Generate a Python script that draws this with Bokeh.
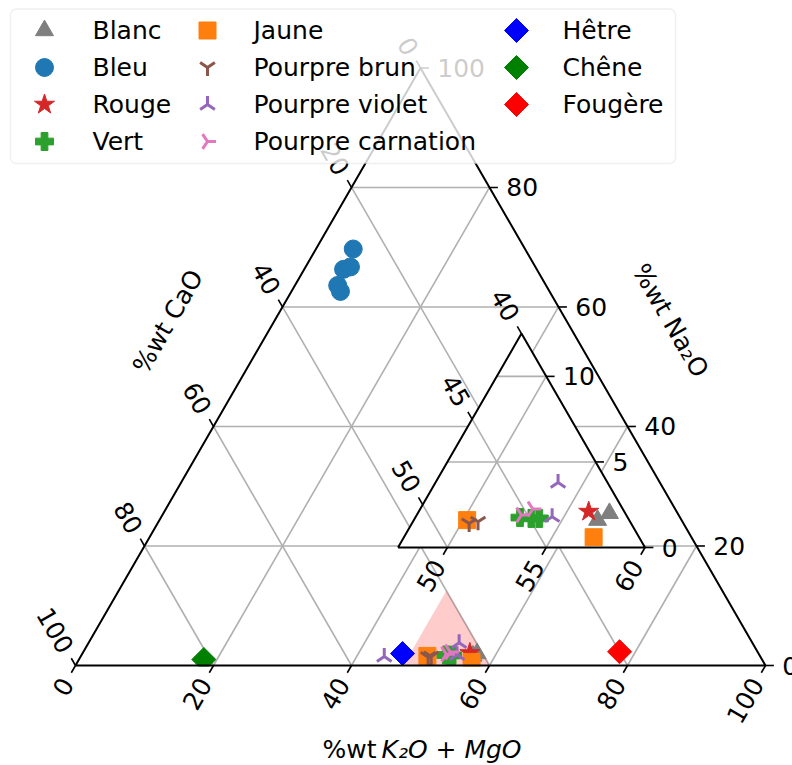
import numpy as np
from bokeh.plotting import figure
from bokeh.models import Range1d, BoxAnnotation
from bokeh.core.properties import value
from bokeh.embed import file_html
from bokeh.resources import INLINE

# ---------------- data: %wt K2O+MgO and %wt Na2O (CaO = remainder) ----------------
blanc_k = [56.8, 57.2]
blanc_na = [1.6, 2.0]
bleu_k = [5.4, 5.7, 6.5, 6.2, 7.1]
bleu_na = [69.7, 66.3, 66.7, 63.6, 62.6]
rouge_k = [56.1]
rouge_na = [2.1]
vert_k = [52.8, 53.4, 53.8]
vert_na = [1.75, 1.7, 1.7]
jaune_k = [50.2, 57.1]
jaune_na = [1.6, 0.6]
brun_k = [50.4, 50.8]
brun_na = [1.4, 1.5]
violet_k = [44.0, 53.7, 54.4]
violet_na = [1.5, 3.8, 1.8]
carnation_k = [52.8, 53.2]
carnation_na = [1.9, 2.25]
hetre_k = [46.4]
hetre_na = [2.0]
chene_k = [18.1]
chene_na = [1.0]
fougere_k = [77.7]
fougere_na = [2.3]

main_ticks = [0, 20, 40, 60, 80, 100]
main_grid = [20, 40, 60, 80]
zoom_k_lim = [47.5, 60.0]
zoom_na_lim = [0.0, 12.5]
zoom_k_ticks = [50, 55, 60]
zoom_cao_ticks = [40, 45, 50]
zoom_na_ticks = [0, 5, 10]

# ---------------- layout helpers ----------------
PX = 6.9
SQ = np.sqrt(3) / 2
W, H = 792, 765
def ux(X): return (X - 75.0) / PX
def vy(Y): return (665.0 - Y) / PX
TL = 8.4 / PX
PAD = 8.4 / PX
FONT = value("DejaVu Sans")
FS = value("25px")
GRID = "#b0b0b0"

def mxy(k, n):
    k = np.asarray(k, float); n = np.asarray(n, float)
    return k + n / 2, n * SQ

KMIN, KMAX = zoom_k_lim
NMAX = zoom_na_lim[1]
Z_U0, Z_V0, Z_S = ux(397.5), vy(547.0), 19.76 / PX
def zxy(k, n):
    k = np.asarray(k, float); n = np.asarray(n, float)
    return Z_U0 + Z_S * ((k - KMIN) + n / 2), Z_V0 + Z_S * (n * SQ)

p = figure(width=W, height=H, x_range=Range1d(ux(0), ux(W)),
           y_range=Range1d(vy(H), vy(0)), output_backend="svg",
           toolbar_location=None, min_border=0,
           x_axis_location=None, y_axis_location=None)
p.grid.visible = False
p.outline_line_color = None
p.background_fill_color = "white"

series = [
    ("Blanc", blanc_k, blanc_na, "triangle", "#7f7f7f", 18, 0.0),
    ("Bleu", bleu_k, bleu_na, "circle", "#1f77b4", 18, 0.0),
    ("Rouge", rouge_k, rouge_na, "star", "#d62728", 21, 0.0),
    ("Vert", vert_k, vert_na, "plus", "#2ca02c", 18, 0.0),
    ("Jaune", jaune_k, jaune_na, "square", "#ff7f0e", 17, 0.0),
    ("Pourpre brun", brun_k, brun_na, "y", "#8c564b", 17, 0.0),
    ("Pourpre violet", violet_k, violet_na, "y", "#9467bd", 17, np.pi),
    ("Pourpre carnation", carnation_k, carnation_na, "y", "#e377c2", 17, np.pi / 2),
    ("Hêtre", hetre_k, hetre_na, "square", "#0000ff", 17, np.pi / 4),
    ("Chêne", chene_k, chene_na, "square", "#008000", 17, np.pi / 4),
    ("Fougère", fougere_k, fougere_na, "square", "#ff0000", 17, np.pi / 4),
]

def draw_markers(xs, ys, marker, color, size, angle, level="glyph"):
    if len(xs) == 0:
        return
    if marker == "y":
        p.scatter(xs, ys, marker="y", size=size, angle=angle, line_color=color,
                  line_width=3, fill_color=None, level=level)
    else:
        p.scatter(xs, ys, marker=marker, size=size, angle=angle, fill_color=color,
                  line_color=color, line_width=1, level=level)

def ticks(us, vs, d, labels, angle, align, color="black"):
    dx, dy = d
    p.multi_line([[u, u + TL * dx] for u in us], [[v, v + TL * dy] for v in vs],
                 line_color=color, line_width=1.6)
    p.text(x=[u + (TL + PAD) * dx for u in us], y=[v + (TL + PAD) * dy for v in vs],
           text=labels, angle=angle, text_align=align, text_baseline="middle",
           text_font=FONT, text_font_size=FS, text_color=color)

# ---------------- main ternary ----------------
gx, gy = [], []
for g in main_grid:
    for (k0, n0, k1, n1) in [(g, 0, g, 100 - g), (0, g, 100 - g, g), (0, 100 - g, 100 - g, 0)]:
        x, y = mxy([k0, k1], [n0, n1])
        gx.append(list(x)); gy.append(list(y))
p.multi_line(gx, gy, line_color=GRID, line_width=1.6)

# zoom region highlighted on the main triangle
rx, ry = mxy([KMIN, KMAX, KMIN], [0, 0, NMAX])
p.patch(list(rx), list(ry), fill_color="red", fill_alpha=0.2, line_color=None)

for name, k, na, mk, col, sz, ang in series:
    x, y = mxy(k, na)
    draw_markers(list(x), list(y), mk, col, sz, ang)

# clip markers below the bottom edge
p.quad(left=[ux(40)], right=[ux(790)], top=[vy(666)], bottom=[vy(690)],
       fill_color="white", line_color=None)

ex, ey = mxy([0, 100, 0, 0], [0, 0, 100, 0])
p.line(list(ex), list(ey), line_color="black", line_width=2)

lab = [str(t) for t in main_ticks]
bx, by = mxy(main_ticks, [0] * 6)
ticks(list(bx), list(by), (-0.5, -SQ), lab, np.pi / 3, "right")
rxx, ryy = mxy([100 - t for t in main_ticks], main_ticks)
ticks(list(rxx), list(ryy), (1, 0), lab, 0.0, "left")
lx, ly = mxy([0] * 6, [100 - t for t in main_ticks])
ticks(list(lx), list(ly), (-0.5, SQ), lab, -np.pi / 3, "right")

# ---------------- zoomed inset ternary ----------------
wx, wy = zxy([KMIN, KMAX, KMIN], [0, 0, NMAX])
p.patch(list(wx), list(wy), fill_color="white", line_color=None)

CMIN = 100 - KMAX
zx, zy = [], []
for t in zoom_k_ticks:
    if KMIN < t < KMAX:
        x, y = zxy([t, t], [0, KMAX - t]); zx.append(list(x)); zy.append(list(y))
for t in zoom_na_ticks:
    if 0 < t < NMAX:
        x, y = zxy([KMIN, KMAX - t], [t, t]); zx.append(list(x)); zy.append(list(y))
for t in zoom_cao_ticks:
    if CMIN < t < 100 - KMIN:
        x, y = zxy([KMIN, 100 - t], [100 - KMIN - t, 0]); zx.append(list(x)); zy.append(list(y))
p.multi_line(zx, zy, line_color=GRID, line_width=1.6)

for name, k, na, mk, col, sz, ang in series:
    k = np.asarray(k, float); na = np.asarray(na, float)
    m = (k >= KMIN) & (k + na <= KMAX) & (na <= NMAX)
    x, y = zxy(k[m], na[m])
    draw_markers(list(x), list(y), mk, col, sz, ang)

ex, ey = zxy([KMIN, KMAX, KMIN, KMIN], [0, 0, NMAX, 0])
p.line(list(ex), list(ey), line_color="black", line_width=2)

bx, by = zxy(zoom_k_ticks, [0] * 3)
ticks(list(bx), list(by), (-0.5, -SQ), [str(t) for t in zoom_k_ticks], np.pi / 3, "right")
rxx, ryy = zxy([KMAX - t for t in zoom_na_ticks], zoom_na_ticks)
ticks(list(rxx), list(ryy), (1, 0), [str(t) for t in zoom_na_ticks], 0.0, "left")
lx, ly = zxy([KMIN] * 3, [100 - KMIN - t for t in zoom_cao_ticks])
ticks(list(lx), list(ly), (-0.5, SQ), [str(t) for t in zoom_cao_ticks], -np.pi / 3, "right")

# ---------------- axis titles ----------------
p.text(x=[ux(167.5)], y=[vy(321)], text=["%wt CaO"], angle=np.pi / 3,
       text_align="center", text_baseline="middle", text_font=FONT, text_font_size=FS)
p.text(x=[ux(670)], y=[vy(320)], text=["%wt Na₂O"], angle=-np.pi / 3,
       text_align="center", text_baseline="middle", text_font=FONT, text_font_size=FS)
p.text(x=[ux(376)], y=[vy(749)], text=["%wt"], text_align="right",
       text_baseline="middle", text_font=FONT, text_font_size=FS)
p.text(x=[ux(381)], y=[vy(749)], text=["K₂O + MgO"], text_align="left",
       text_baseline="middle", text_font=FONT, text_font_size=FS, text_font_style="italic")

# ---------------- legend ----------------
p.add_layout(BoxAnnotation(left=ux(10), right=ux(675), top=vy(8.5), bottom=vy(163),
                           fill_color="white", fill_alpha=0.8, line_color="#cccccc",
                           line_width=1.5, border_radius=6))
rows_y = [30, 67, 104, 141]
col_mx = [44, 207, 516]
col_tx = [92, 253, 562]
for i, (name, k, na, mk, col, sz, ang) in enumerate(series):
    c = 0 if i < 4 else (1 if i < 8 else 2)
    r = i if i < 4 else (i - 4 if i < 8 else i - 8)
    draw_markers([ux(col_mx[c])], [vy(rows_y[r])], mk, col, sz, ang, level="overlay")
    p.text(x=[ux(col_tx[c])], y=[vy(rows_y[r])], text=[name], text_align="left",
           text_baseline="middle", text_font=FONT, text_font_size=FS, level="overlay")

open("out.html", "w").write(file_html(p, INLINE))
